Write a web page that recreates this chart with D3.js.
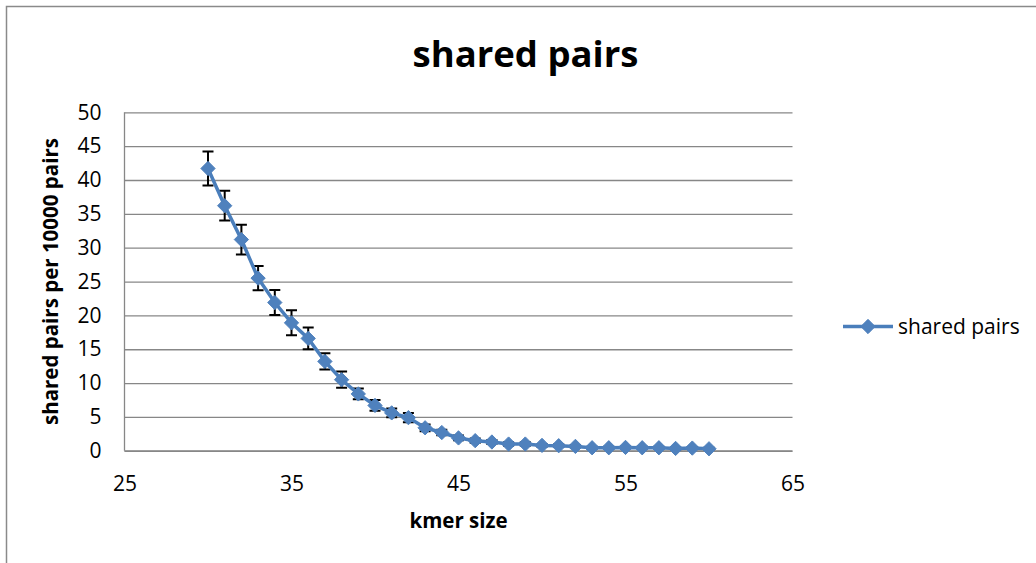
<!DOCTYPE html>
<meta charset="utf-8">
<style>
    body {
        margin: 0;
        background: #fff;
        font-family: 'Open Sans';
    }
    #graph {
        width: 1036px;
        height: 563px;
    }
</style>
<script src="https://d3js.org/d3.v7.min.js"></script>
<div id="graph"></div>
<script>
    // kmer sizes and the shared pair counts (per 10000 pairs), with error bar half widths
    const kmers = [30, 31, 32, 33, 34, 35, 36, 37, 38, 39, 40, 41, 42, 43, 44, 45,
        46, 47, 48, 49, 50, 51, 52, 53, 54, 55, 56, 57, 58, 59, 60];
    const sharedPairs = [41.7, 36.2, 31.2, 25.5, 21.9, 18.9, 16.6, 13.2, 10.5, 8.4, 6.7, 5.6, 4.9, 3.4, 2.7, 1.9,
        1.5, 1.3, 1.0, 1.0, 0.8, 0.75, 0.65, 0.45, 0.45, 0.5, 0.45, 0.45, 0.35, 0.4, 0.3];
    const errors = [2.5, 2.2, 2.2, 1.8, 1.85, 1.85, 1.6, 1.2, 1.2, 0.8, 0.8, 0.65, 0.7, 0.5, 0.4, 0.35,
        0.3, 0.3, 0.25, 0.25, 0.2, 0.2, 0.2, 0.15, 0.15, 0.15, 0.15, 0.15, 0.15, 0.15, 0.15];
    const xTicks = [25, 35, 45, 55, 65];
    const yTicks = [0, 5, 10, 15, 20, 25, 30, 35, 40, 45, 50];
    const seriesName = "shared pairs";

    const data = kmers.map((k, i) => ({k: k, v: sharedPairs[i], e: errors[i]}));

    const lineColor = "#4a7ebb",
        markerColor = "#4f81bd",
        gridColor = "#878787";

    // plot area
    const margin = {top: 112.3, left: 124.5},
        width = 668,
        height = 338.5;

    const svg = d3.select("#graph").append("svg")
        .attr("width", 1036)
        .attr("height", 563);

    // outer chart frame
    svg.append("rect")
        .attr("x", 6.5).attr("y", 6.5)
        .attr("width", 1100).attr("height", 700)
        .attr("fill", "none")
        .attr("stroke", "#8a8a8a")
        .attr("stroke-width", 1.5);

    svg.append("text")
        .attr("x", 525.5).attr("y", 67)
        .attr("text-anchor", "middle")
        .attr("font-weight", "bold")
        .attr("font-size", 36.5)
        .text("shared pairs");

    const g = svg.append("g")
        .attr("transform", `translate(${margin.left},${margin.top})`);

    const x = d3.scaleLinear().domain([25, 65]).range([0, width]);
    const y = d3.scaleLinear().domain([0, 50]).range([height, 0]);

    // horizontal gridlines
    const yAxis = g.append("g")
        .call(d3.axisLeft(y).tickValues(yTicks).tickSize(-width).tickPadding(23).tickFormat(d3.format("d")));
    yAxis.select(".domain").remove();
    yAxis.selectAll(".tick line").attr("stroke", gridColor).attr("stroke-width", 1.3);
    yAxis.selectAll(".tick text")
        .attr("font-family", "Open Sans").attr("font-size", 21).attr("fill", "#000");

    // x axis
    const xAxis = g.append("g")
        .attr("transform", `translate(0,${height})`)
        .call(d3.axisBottom(x).tickValues(xTicks).tickSize(0).tickPadding(25));
    xAxis.select(".domain").remove();
    xAxis.selectAll(".tick text")
        .attr("font-family", "Open Sans").attr("font-size", 21).attr("fill", "#000");

    // axis lines
    g.append("line")
        .attr("x1", 0).attr("x2", 0).attr("y1", 0).attr("y2", height)
        .attr("stroke", gridColor).attr("stroke-width", 1.3);
    g.append("line")
        .attr("x1", 0).attr("x2", width).attr("y1", height).attr("y2", height)
        .attr("stroke", gridColor).attr("stroke-width", 1.3);

    // axis titles
    svg.append("text")
        .attr("transform", `translate(58,${margin.top + height / 2})rotate(-90)`)
        .attr("text-anchor", "middle")
        .attr("font-weight", "bold")
        .attr("font-size", 20.5)
        .text("shared pairs per 10000 pairs");

    svg.append("text")
        .attr("x", margin.left + width / 2).attr("y", 528)
        .attr("text-anchor", "middle")
        .attr("font-weight", "bold")
        .attr("font-size", 20.5)
        .text("kmer size");

    // error bars
    const cap = 5.5;
    const eb = g.append("g").attr("stroke", "#000").attr("stroke-width", 2);
    data.forEach(d => {
        const cx = x(d.k), y1 = y(d.v + d.e), y2 = y(d.v - d.e);
        eb.append("path")
            .attr("d", `M${cx},${y1}V${y2}M${cx - cap},${y1}H${cx + cap}M${cx - cap},${y2}H${cx + cap}`)
            .attr("fill", "none");
    });

    // series line
    const line = d3.line().x(d => x(d.k)).y(d => y(d.v));
    g.append("path")
        .datum(data)
        .attr("d", line)
        .attr("fill", "none")
        .attr("stroke", lineColor)
        .attr("stroke-width", 3.5);

    const diamond = d3.symbol().type(d3.symbolDiamond2).size(130);
    g.selectAll("path.marker")
        .data(data)
        .enter().append("path")
        .attr("class", "marker")
        .attr("transform", d => `translate(${x(d.k)},${y(d.v)})`)
        .attr("d", diamond)
        .attr("fill", markerColor)
        .attr("stroke", markerColor)
        .attr("stroke-width", 1);

    // legend
    const lg = svg.append("g").attr("transform", "translate(843,326.5)");
    lg.append("line")
        .attr("x1", 0).attr("x2", 50)
        .attr("stroke", lineColor).attr("stroke-width", 3.5);
    lg.append("path")
        .attr("transform", "translate(25,0)")
        .attr("d", diamond)
        .attr("fill", markerColor)
        .attr("stroke", markerColor);
    lg.append("text")
        .attr("x", 55).attr("y", 0)
        .attr("dy", "0.35em")
        .attr("font-size", 21)
        .text(seriesName);
</script>
